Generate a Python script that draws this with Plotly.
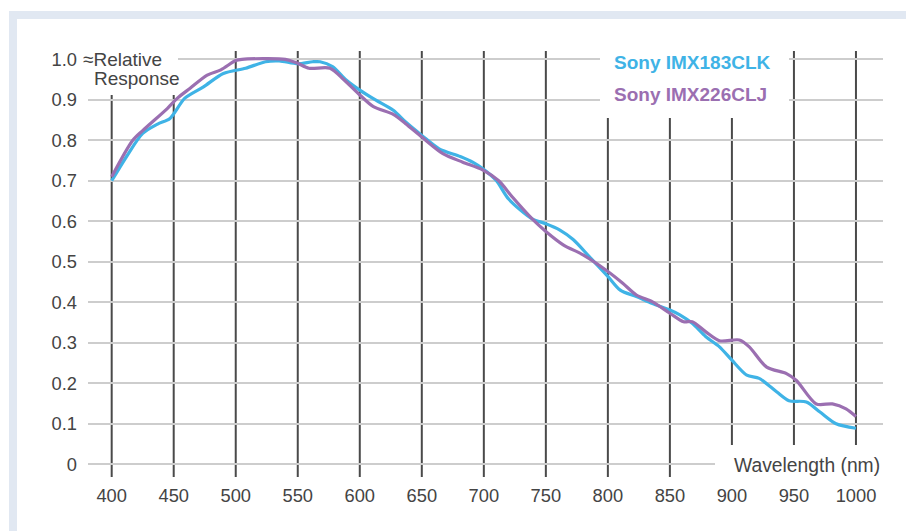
import plotly.graph_objects as go

# ---- data ----
imx183_nm = [400, 412, 425, 437, 447, 459, 474, 490, 508, 524, 535, 550, 562, 568, 578, 589,
             600, 613, 627, 637, 650, 664, 681, 691, 699, 710, 720, 739, 750, 761, 772, 785,
             800, 810, 823, 836, 850, 858, 868, 879, 890, 900, 912, 922, 936, 946, 960, 971,
             984, 1000]
imx183_val = [0.70, 0.76, 0.817, 0.84, 0.854, 0.904, 0.932, 0.965, 0.978, 0.994, 0.996, 0.989,
              0.994, 0.994, 0.982, 0.949, 0.924, 0.899, 0.874, 0.845, 0.812, 0.779, 0.760, 0.746,
              0.730, 0.701, 0.655, 0.606, 0.594, 0.579, 0.555, 0.513, 0.464, 0.430, 0.414, 0.397,
              0.381, 0.369, 0.348, 0.315, 0.290, 0.257, 0.220, 0.212, 0.179, 0.157, 0.154, 0.129,
              0.100, 0.089]

imx226_nm = [400, 417, 425, 445, 453, 463, 477, 488, 500, 505, 540, 550, 559, 576, 587, 600,
             611, 627, 637, 650, 667, 683, 699, 712, 723, 739, 750, 764, 780, 800, 812, 823,
             836, 850, 861, 868, 879, 890, 906, 914, 928, 944, 952, 968, 981, 992, 1000]
imx226_val = [0.71, 0.80, 0.824, 0.879, 0.904, 0.928, 0.961, 0.974, 0.997, 1.0, 1.0, 0.99,
              0.978, 0.978, 0.95, 0.912, 0.883, 0.864, 0.841, 0.808, 0.767, 0.746, 0.727, 0.70,
              0.66, 0.606, 0.575, 0.542, 0.517, 0.476, 0.447, 0.418, 0.401, 0.373, 0.352, 0.352,
              0.327, 0.305, 0.307, 0.29, 0.24, 0.224, 0.207, 0.149, 0.149, 0.137, 0.118]

x_ticks = [400, 450, 500, 550, 600, 650, 700, 750, 800, 850, 900, 950, 1000]
x_tick_labels = [str(v) for v in x_ticks]
y_ticks = [0, 0.1, 0.2, 0.3, 0.4, 0.5, 0.6, 0.7, 0.8, 0.9, 1.0]
y_tick_labels = ["0", "0.1", "0.2", "0.3", "0.4", "0.5", "0.6", "0.7", "0.8", "0.9", "1.0"]

series_names = ["Sony IMX183CLK", "Sony IMX226CLJ"]
series_colors = ["#3fb3e6", "#9b6fb1"]

# ---- layout geometry (pixels) ----
W, H = 906, 531
L, R, T, B = 88, 23, 51, 54
PW, PH = W - L - R, H - T - B


def px(xp):
    return (xp - L) / PW


def py(yp):
    return (H - B - yp) / PH


FONT = "Liberation Sans, Arial, sans-serif"
TXT = "#444444"

fig = go.Figure()
fig.add_trace(go.Scatter(x=imx183_nm, y=imx183_val, mode="lines", name=series_names[0],
                         line=dict(color=series_colors[0], width=3.2, shape="spline", smoothing=0.8),
                         hoverinfo="skip"))
fig.add_trace(go.Scatter(x=imx226_nm, y=imx226_val, mode="lines", name=series_names[1],
                         line=dict(color=series_colors[1], width=3.2, shape="spline", smoothing=0.8),
                         hoverinfo="skip"))

shapes = []
# page frame
shapes.append(dict(type="rect", xref="paper", yref="paper", x0=px(9), x1=px(906), y0=py(11), y1=py(19),
                   fillcolor="#e1e8f2", line=dict(width=0), layer="below"))
shapes.append(dict(type="rect", xref="paper", yref="paper", x0=px(9), x1=px(17), y0=py(11), y1=py(531),
                   fillcolor="#e1e8f2", line=dict(width=0), layer="below"))
# vertical wavelength lines
for t in x_ticks:
    shapes.append(dict(type="line", xref="x", yref="paper", x0=t, x1=t, y0=0, y1=1,
                       line=dict(color="#4a4a4a", width=2), layer="between"))
# white boxes behind labels
for (x0, x1, y0, y1) in [(88, 178, 40, 95), (600, 789, 45, 118), (715, 890, 445, 480)]:
    shapes.append(dict(type="rect", xref="paper", yref="paper", x0=px(x0), x1=px(x1),
                       y0=py(y1), y1=py(y0), fillcolor="white", line=dict(width=0), layer="above"))

LBL = dict(family=FONT, size=19, color=TXT)
annotations = [
    dict(text="≈Relative", x=px(81), y=py(60), xanchor="left", yanchor="middle", font=LBL),
    dict(text="Response", x=px(92), y=py(79), xanchor="left", yanchor="middle", font=LBL),
    dict(text="Wavelength (nm)", x=px(882), y=py(465), xanchor="right", yanchor="middle",
         font=dict(family=FONT, size=19.3, color=TXT)),
    dict(text="<b>" + series_names[0] + "</b>", x=px(612), y=py(62), xanchor="left", yanchor="middle",
         font=dict(family=FONT, size=19, color=series_colors[0])),
    dict(text="<b>" + series_names[1] + "</b>", x=px(612), y=py(94), xanchor="left", yanchor="middle",
         font=dict(family=FONT, size=19, color=series_colors[1])),
]
for a in annotations:
    a.update(xref="paper", yref="paper", showarrow=False)

fig.update_layout(
    width=W, height=H, autosize=False,
    margin=dict(l=L, r=R, t=T, b=B, pad=0),
    paper_bgcolor="white", plot_bgcolor="white",
    showlegend=False,
    font=dict(family=FONT, size=18, color=TXT),
    shapes=shapes, annotations=annotations,
    xaxis=dict(range=[380.9, 1021.8], tickvals=x_ticks, ticktext=x_tick_labels, showgrid=False,
               zeroline=False, showline=False, ticks="", ticklabelstandoff=6, fixedrange=True,
               tickfont=dict(family=FONT, size=18.3, color=TXT)),
    yaxis=dict(range=[-0.0314, 1.0205], tickvals=y_ticks, ticktext=y_tick_labels, showgrid=True,
               gridcolor="#cdcdcd", gridwidth=2, zeroline=False, showline=False, ticks="",
               ticklabelstandoff=10, fixedrange=True,
               tickfont=dict(family=FONT, size=18.3, color=TXT)),
)

fig.write_html("out.html", config={"displayModeBar": False},
               post_script="document.body.style.margin='0';document.body.style.overflow='hidden';")
